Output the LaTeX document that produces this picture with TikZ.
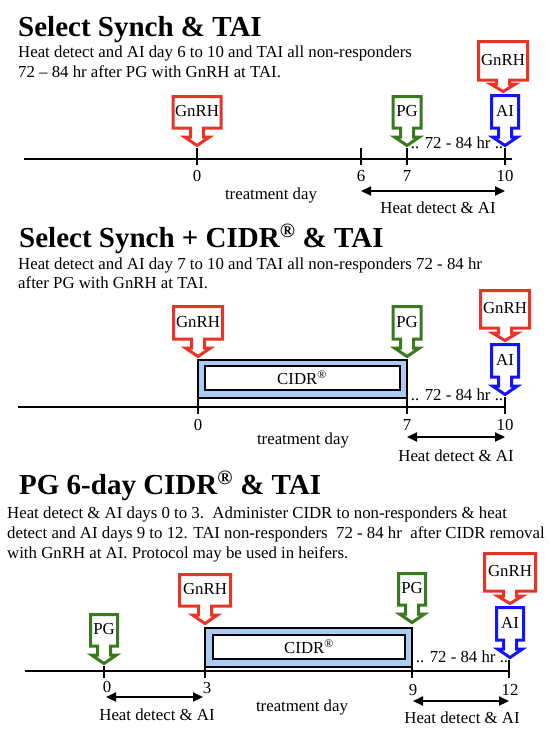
\documentclass[tikz,border=0pt]{standalone}
\usepackage{fontspec}
\setmainfont{Liberation Serif}
\usetikzlibrary{arrows.meta}
\definecolor{gred}{RGB}{232,52,38}
\definecolor{ggreen}{RGB}{58,122,30}
\definecolor{gblue}{RGB}{20,20,250}
\definecolor{cidrfill}{RGB}{170,204,240}
\tikzset{
 lbl/.style={font=\fontsize{16.8}{20}\selectfont, inner sep=0pt},
 bodytxt/.style={font=\fontsize{16.8}{20}\selectfont, inner sep=0pt, anchor=base west},
 ttl/.style={font=\fontsize{29}{34}\selectfont\bfseries, inner sep=0pt, anchor=base west},
 axisline/.style={line width=1.6pt, black},
 tickline/.style={line width=1.6pt, black},
 heatarrow/.style={line width=2.2pt, {Triangle[length=10pt,width=9pt]}-{Triangle[length=10pt,width=9pt]}},
 cidrouter/.style={draw=black, line width=1.2pt, fill=cidrfill},
 cidrinner/.style={draw=black, line width=2pt, fill=white},
 calloutline/.style={line width=3pt, fill=white, line join=miter},
}
% name, cx, tipy, halfW, Hb, stem, head, color, text
\newcommand{\callout}[9]{%
 \begin{scope}[shift={(#2,#3)}]
  \pgfmathsetmacro\cw{#4-1.5}
  \pgfmathsetmacro\cby{-(#6+#7)}
  \pgfmathsetmacro\cty{-(#5+#6+#7)+1.5}
  \pgfmathsetmacro\csy{-#7}
  \pgfmathsetmacro\cty{\cty}
  \draw[calloutline, draw=#8] (-\cw,\cty) -- (\cw,\cty) -- (\cw,\cby) -- (6.5,\cby) -- (6.5,\csy) -- (12.5,\csy) -- (0,-2.5) -- (-12.5,\csy) -- (-6.5,\csy) -- (-6.5,\cby) -- (-\cw,\cby) -- cycle;
  \pgfmathsetmacro\cty{-(#6+#7)-#5/2}
  \node[lbl] (#1) at (0,\cty) {#9};
 \end{scope}}

\begin{document}
\begin{tikzpicture}[x=1pt,y=-1pt]
\path[use as bounding box, fill=white] (0,0) rectangle (549,739);

% ---------------- Section 1 ----------------
\node[ttl] (t1) at (18,36) {Select Synch \& TAI};
\node[bodytxt] (b1a) at (18,57) {Heat detect and AI day 6 to 10 and TAI all non-responders};
\node[bodytxt] (b1b) at (18,77) {72 – 84 hr after PG with GnRH at TAI.};
\coordinate (s1L) at (24,159);
\coordinate (s1R) at (512,159);
\draw[axisline] (s1L) -- (s1R);
\foreach \x/\n in {197/a,361/b,407/c,505/d}{
  \coordinate (s1\n top) at (\x,148);
  \coordinate (s1\n bot) at (\x,165);
  \draw[tickline] (s1\n top) -- (s1\n bot);
}
\node[lbl] (l1a) at (197,176) {0};
\node[lbl] (l1b) at (361,176) {6};
\node[lbl] (l1c) at (407,176) {7};
\node[lbl] (l1d) at (505,176) {10};
\node[lbl] (td1) at (271,195) {treatment day};
\coordinate (h1L) at (361,191);
\coordinate (h1R) at (505,191);
\draw[heatarrow] (h1L) -- (h1R);
\node[lbl] (hd1) at (438,208) {Heat detect \& AI};
\node[lbl] (hr1) at (457,143) {.. 72 - 84 hr ..};
\callout{g1a}{197}{148}{25.5}{33}{9}{11}{gred}{GnRH}
\callout{p1}{407}{148}{15.5}{33}{9}{11}{ggreen}{PG}
\callout{a1}{505}{148}{15}{34}{9}{11}{gblue}{AI}
\callout{g1b}{503}{94}{26}{40}{4}{10}{gred}{GnRH}

% ---------------- Section 2 ----------------
\node[ttl] (t2) at (19,247) {Select Synch + CIDR\textsuperscript{®} \& TAI};
\node[bodytxt] (b2a) at (18,269) {Heat detect and AI day 7 to 10 and TAI all non-responders 72 - 84 hr};
\node[bodytxt] (b2b) at (18,288) {after PG with GnRH at TAI.};
\draw[cidrouter] (198,360) rectangle (407,398);
\draw[cidrinner] (205,366) rectangle (400,390);
\node[lbl] (c2) at (302,378) {CIDR\textsuperscript{®}};
\coordinate (s2L) at (18,407);
\coordinate (s2R) at (506,407);
\draw[axisline] (s2L) -- (s2R);
\coordinate (s2atop) at (198,360); \coordinate (s2abot) at (198,414);
\coordinate (s2btop) at (407,360); \coordinate (s2bbot) at (407,414);
\coordinate (s2ctop) at (505,397); \coordinate (s2cbot) at (505,414);
\draw[tickline] (s2atop) -- (s2abot);
\draw[tickline] (s2btop) -- (s2bbot);
\draw[tickline] (s2ctop) -- (s2cbot);
\node[lbl] (l2a) at (198,425) {0};
\node[lbl] (l2b) at (407,425) {7};
\node[lbl] (l2c) at (505,425) {10};
\node[lbl] (td2) at (303,440) {treatment day};
\coordinate (h2L) at (407,437);
\coordinate (h2R) at (505,437);
\draw[heatarrow] (h2L) -- (h2R);
\node[lbl] (hd2) at (456,456) {Heat detect \& AI};
\node[lbl] (hr2) at (457,395) {.. 72 - 84 hr ..};
\callout{g2a}{198}{359}{26}{34}{9}{11}{gred}{GnRH}
\callout{p2}{407}{359}{15.5}{34}{9}{11}{ggreen}{PG}
\callout{a2}{505}{397}{15}{34}{9}{11}{gblue}{AI}
\callout{g2b}{505}{343}{26}{39}{5}{10}{gred}{GnRH}

% ---------------- Section 3 ----------------
\node[ttl] (t3) at (19,494) {PG 6-day CIDR\textsuperscript{®} \& TAI};
\node[bodytxt] (b3a) at (7,518) {Heat detect \& AI days 0 to 3.\ \ Administer CIDR to non-responders \& heat};
\node[bodytxt] (b3b) at (7,538) {detect and AI days 9 to 12. TAI non-responders\ \ 72 - 84 hr\ \ after CIDR removal};
\node[bodytxt] (b3c) at (7,558) {with GnRH at AI. Protocol may be used in heifers.};
\draw[cidrouter] (205,628) rectangle (412,667);
\draw[cidrinner] (213,635) rectangle (405,659);
\node[lbl] (c3) at (309,647) {CIDR\textsuperscript{®}};
\coordinate (s3L) at (25,671);
\coordinate (s3R) at (509,671);
\draw[axisline] (s3L) -- (s3R);
\coordinate (s3atop) at (104,666); \coordinate (s3abot) at (104,678);
\coordinate (s3btop) at (205,628); \coordinate (s3bbot) at (205,678);
\coordinate (s3ctop) at (412,628); \coordinate (s3cbot) at (412,678);
\coordinate (s3dtop) at (509,660); \coordinate (s3dbot) at (509,678);
\draw[tickline] (s3atop) -- (s3abot);
\draw[tickline] (s3btop) -- (s3bbot);
\draw[tickline] (s3ctop) -- (s3cbot);
\draw[tickline] (s3dtop) -- (s3dbot);
\node[lbl] (l3a) at (107,687) {0};
\node[lbl] (l3b) at (207,688) {3};
\node[lbl] (l3c) at (413,690) {9};
\node[lbl] (l3d) at (510,690) {12};
\node[lbl] (td3) at (302,707) {treatment day};
\coordinate (h3aL) at (106,697);
\coordinate (h3aR) at (203,697);
\draw[heatarrow] (h3aL) -- (h3aR);
\node[lbl] (hd3a) at (157,715) {Heat detect \& AI};
\coordinate (h3bL) at (413,701);
\coordinate (h3bR) at (509,701);
\draw[heatarrow] (h3bL) -- (h3bR);
\node[lbl] (hd3b) at (462,718) {Heat detect \& AI};
\node[lbl] (hr3) at (462,657) {.. 72 - 84 hr ..};
\callout{p3a}{104}{666}{15}{33}{9}{11}{ggreen}{PG}
\callout{g3a}{205}{626}{27}{33}{9}{11}{gred}{GnRH}
\callout{p3b}{412}{625}{15}{33}{9}{11}{ggreen}{PG}
\callout{a3}{510}{660}{15}{34}{9}{11}{gblue}{AI}
\callout{g3b}{510}{606}{27}{39}{5}{10}{gred}{GnRH}
\end{tikzpicture}
\end{document}
